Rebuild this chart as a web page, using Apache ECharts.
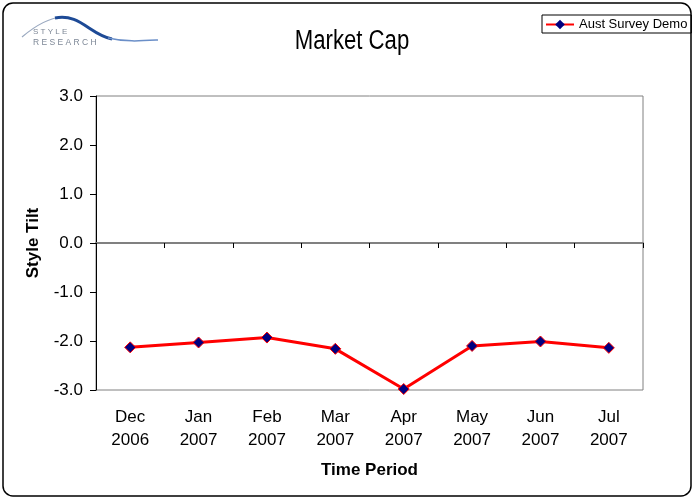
<!DOCTYPE html>
<html>
<head>
<meta charset="utf-8">
<script src="https://cdn.jsdelivr.net/npm/echarts@6/dist/echarts.min.js"></script>
<style>
html, body { margin: 0; padding: 0; background: #fff; }
#chart { width: 694px; height: 499px; }
</style>
</head>
<body>
<div id="chart"></div>
<script>
// 数据
var periods = ['Dec\n2006', 'Jan\n2007', 'Feb\n2007', 'Mar\n2007', 'Apr\n2007', 'May\n2007', 'Jun\n2007', 'Jul\n2007'];
var styleTilt = [-2.13, -2.03, -1.93, -2.16, -2.98, -2.10, -2.01, -2.14];
var seriesName = 'Aust Survey Demo';
var chartTitle = 'Market Cap';

var font = 'Liberation Sans, Arial, sans-serif';
var chart = echarts.init(document.getElementById('chart'));
var option = {
    animation: false,
    backgroundColor: '#fff',
    legend: {
        data: [{
            name: seriesName,
            itemStyle: { color: '#000080', borderColor: '#000080', borderWidth: 0 }
        }],
        left: 542,
        top: 15,
        padding: [3, 4, 2, 3],
        borderColor: '#000',
        borderWidth: 1,
        itemWidth: 28,
        itemHeight: 12,
        itemGap: 4,
        textStyle: { fontFamily: font, fontSize: 13, color: '#000' }
    },
    grid: {
        left: 96,
        right: 51,
        top: 96,
        bottom: 109,
        show: true,
        borderColor: '#808080',
        borderWidth: 1
    },
    xAxis: [
        {
            // 底部标签
            type: 'category',
            data: periods,
            position: 'bottom',
            axisLine: { show: false, onZero: false },
            axisTick: { show: false },
            axisLabel: {
                fontFamily: font, fontSize: 17, color: '#000',
                margin: 16, lineHeight: 23
            },
            name: 'Time Period',
            nameLocation: 'middle',
            nameGap: 72,
            nameTextStyle: { fontFamily: font, fontSize: 17, fontWeight: 'bold', color: '#000' }
        },
        {
            // 零线
            type: 'category',
            data: periods,
            position: 'bottom',
            axisLine: { show: true, onZero: true, lineStyle: { color: '#808080', width: 2 } },
            axisTick: { show: true, length: 5, lineStyle: { color: '#000', width: 1 } },
            axisLabel: { show: false }
        }
    ],
    yAxis: {
        type: 'value',
        min: -3,
        max: 3,
        interval: 1,
        axisLine: { show: true, lineStyle: { color: '#000', width: 1 } },
        axisTick: { show: true, length: 6, lineStyle: { color: '#000' } },
        splitLine: { show: false },
        axisLabel: {
            fontFamily: font, fontSize: 17, color: '#000', margin: 13,
            formatter: function (v) { return v.toFixed(1); }
        },
        name: 'Style Tilt',
        nameLocation: 'middle',
        nameGap: 54,
        nameTextStyle: { fontFamily: font, fontSize: 17, fontWeight: 'bold', color: '#000' }
    },
    series: [{
        name: seriesName,
        type: 'line',
        data: styleTilt,
        symbol: 'diamond',
        symbolSize: 11,
        lineStyle: { color: '#ff0000', width: 3 },
        itemStyle: { color: '#000080', borderColor: '#ff0000', borderWidth: 1 }
    }],
    graphic: [
        {
            type: 'rect',
            shape: { x: 3, y: 3, width: 688, height: 493, r: 10 },
            style: { fill: 'none', stroke: '#000', lineWidth: 1.5 },
            silent: true
        },
        {
            // 标题（窄体）
            type: 'text',
            x: 352, y: 42,
            scaleX: 0.82,
            style: {
                text: chartTitle, fontFamily: font, fontSize: 27, fill: '#000',
                align: 'center', verticalAlign: 'middle'
            },
            silent: true
        },
        {
            // logo 弧线
            type: 'bezierCurve',
            shape: { x1: 22, y1: 37, cpx1: 35, cpy1: 26, cpx2: 48, cpy2: 18, x2: 62, y2: 17 },
            style: { stroke: '#9aa9c0', lineWidth: 1.2, fill: 'none' },
            silent: true
        },
        {
            type: 'bezierCurve',
            shape: { x1: 55, y1: 18, cpx1: 80, cpy1: 13, cpx2: 90, cpy2: 35, x2: 112, y2: 39 },
            style: { stroke: '#1d4a96', lineWidth: 3, fill: 'none' },
            silent: true
        },
        {
            type: 'bezierCurve',
            shape: { x1: 108, y1: 38, cpx1: 125, cpy1: 42, cpx2: 140, cpy2: 41, x2: 158, y2: 40 },
            style: { stroke: '#6b8fc8', lineWidth: 1.5, fill: 'none' },
            silent: true
        },
        {
            type: 'text',
            left: 33, top: 28,
            style: { text: 'S T Y L E', fontFamily: font, fontSize: 8, fill: '#7d8796' },
            silent: true
        },
        {
            type: 'text',
            left: 33, top: 38,
            style: { text: 'R E S E A R C H', fontFamily: font, fontSize: 8.5, fill: '#7d8796' },
            silent: true
        }
    ]
};
chart.setOption(option);
</script>
</body>
</html>
